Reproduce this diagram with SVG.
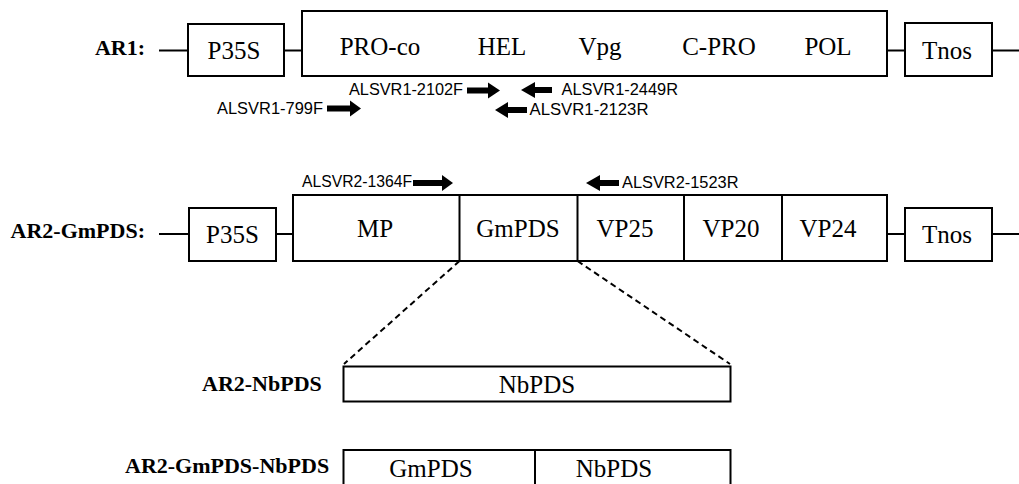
<svg xmlns="http://www.w3.org/2000/svg" width="1019" height="484" viewBox="0 0 1019 484">
<style>
.box{fill:#fff;stroke:#000;stroke-width:2}
.ln{stroke:#000;stroke-width:2;fill:none}
.dash{stroke:#000;stroke-width:2;fill:none;stroke-dasharray:6 4}
.t{font-family:"Liberation Serif","Times New Roman",serif;font-size:25px;fill:#000;text-anchor:middle}
.lbl{font-family:"Liberation Serif","Times New Roman",serif;font-size:22px;font-weight:bold;fill:#000}
.pr{font-family:"Liberation Sans",Arial,sans-serif;font-size:16px;fill:#000}
.arr{fill:#000}
</style>
<rect width="1019" height="484" fill="#fff"/>
<g id="connectors">
<line class="ln" x1="159" y1="50.5" x2="188" y2="50.5"/>
<line class="ln" x1="284" y1="50.5" x2="302" y2="50.5"/>
<line class="ln" x1="887" y1="50.5" x2="905" y2="50.5"/>
<line class="ln" x1="992" y1="50.5" x2="1019" y2="50.5"/>
<line class="ln" x1="159" y1="234" x2="189" y2="234"/>
<line class="ln" x1="276" y1="234" x2="293" y2="234"/>
<line class="ln" x1="887" y1="234" x2="905" y2="234"/>
<line class="ln" x1="992" y1="234" x2="1019" y2="234"/>
<line class="dash" x1="459.5" y1="261" x2="344" y2="364"/>
<line class="dash" x1="577.5" y1="261" x2="730" y2="364"/>
</g>
<g id="ar1-label"><text class="lbl" x="145" y="54.5" text-anchor="end">AR1:</text></g>
<g id="ar1-p35s"><rect class="box" x="188" y="24" width="96" height="52"/><text class="t" x="234" y="59">P35S</text></g>
<g id="ar1-genome"><rect class="box" x="302" y="11" width="585" height="65"/>
<text class="t" x="380" y="55">PRO-co</text>
<text class="t" x="502" y="55">HEL</text>
<text class="t" x="600" y="55">Vpg</text>
<text class="t" x="719" y="55">C-PRO</text>
<text class="t" x="828" y="55">POL</text>
</g>
<g id="ar1-tnos"><rect class="box" x="905" y="23" width="87" height="53"/><text class="t" x="947" y="59">Tnos</text></g>
<g id="primer-799F"><text class="pr" x="217" y="113.5" textLength="106" lengthAdjust="spacingAndGlyphs">ALSVR1-799F</text><path class="arr" d="M327 105.5H350V100.5L361 108.5L350 116.5V111.5H327Z"/></g>
<g id="primer-2102F"><text class="pr" x="349" y="94.5" textLength="114" lengthAdjust="spacingAndGlyphs">ALSVR1-2102F</text><path class="arr" d="M467 87.5H488V82.5L500 90.5L488 98.5V93.5H467Z"/></g>
<g id="primer-2449R"><text class="pr" x="561.5" y="94.5" textLength="116.5" lengthAdjust="spacingAndGlyphs">ALSVR1-2449R</text><path class="arr" d="M552 87H535V82L521 90L535 98V93H552Z"/></g>
<g id="primer-2123R"><text class="pr" x="529.5" y="114.5" textLength="119" lengthAdjust="spacingAndGlyphs">ALSVR1-2123R</text><path class="arr" d="M527 107H508V102L495 110L508 118V113H527Z"/></g>
<g id="ar2-label"><text class="lbl" x="145" y="238" text-anchor="end">AR2-GmPDS:</text></g>
<g id="ar2-p35s"><rect class="box" x="189" y="208" width="87" height="53"/><text class="t" x="232.5" y="243">P35S</text></g>
<g id="ar2-genome"><rect class="box" x="293" y="195" width="594" height="66"/>
<line class="ln" x1="459.5" y1="195" x2="459.5" y2="261"/>
<line class="ln" x1="577.5" y1="195" x2="577.5" y2="261"/>
<line class="ln" x1="684" y1="195" x2="684" y2="261"/>
<line class="ln" x1="782" y1="195" x2="782" y2="261"/>
<text class="t" x="375" y="237">MP</text>
<text class="t" x="518" y="237">GmPDS</text>
<text class="t" x="625" y="237">VP25</text>
<text class="t" x="731" y="237">VP20</text>
<text class="t" x="828" y="237">VP24</text>
</g>
<g id="ar2-tnos"><rect class="box" x="905" y="208" width="87" height="53"/><text class="t" x="947" y="243">Tnos</text></g>
<g id="primer-1364F"><text class="pr" x="302" y="187" textLength="110" lengthAdjust="spacingAndGlyphs">ALSVR2-1364F</text><path class="arr" d="M413 180H442V175L453 183L442 191V186H413Z"/></g>
<g id="primer-1523R"><text class="pr" x="622" y="187.5" textLength="116.5" lengthAdjust="spacingAndGlyphs">ALSVR2-1523R</text><path class="arr" d="M619 180H600V175L586 183L600 191V186H619Z"/></g>
<g id="ar2-nbpds-label"><text class="lbl" x="202" y="391">AR2-NbPDS</text></g>
<g id="ar2-nbpds"><rect class="box" x="343.5" y="366.5" width="387" height="35"/><text class="t" x="537" y="393">NbPDS</text></g>
<g id="ar2-gmpds-nbpds-label"><text class="lbl" x="125" y="473">AR2-GmPDS-NbPDS</text></g>
<g id="ar2-gmpds-nbpds"><rect class="box" x="343.5" y="450" width="387" height="45"/>
<line class="ln" x1="535" y1="450" x2="535" y2="495"/>
<text class="t" x="431" y="477">GmPDS</text>
<text class="t" x="614" y="477">NbPDS</text>
</g>
</svg>
